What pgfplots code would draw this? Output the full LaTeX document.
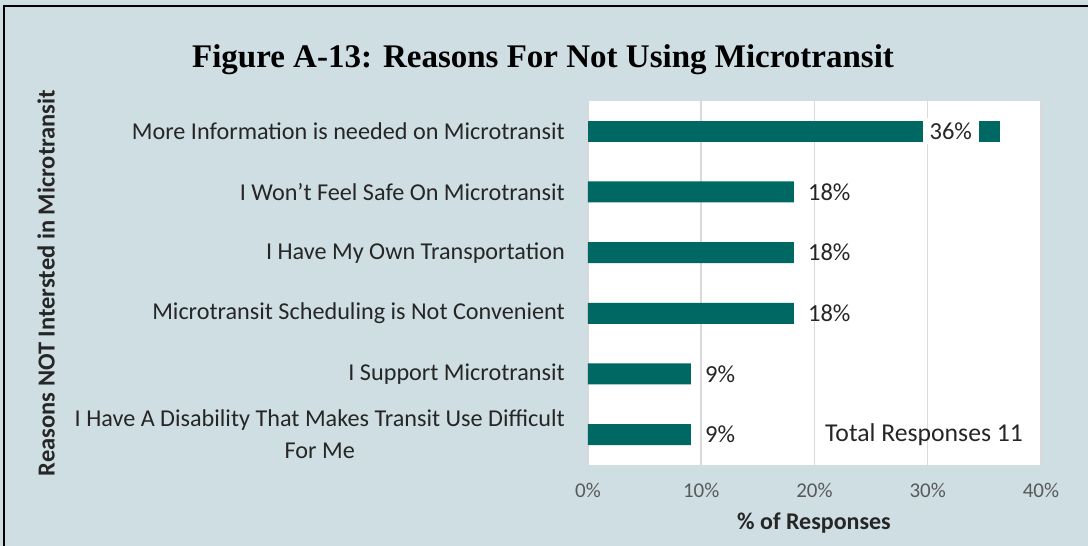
\documentclass[border=0pt]{standalone}
\usepackage{fontspec}
\setmainfont{Carlito}
\newfontfamily\titlefont{Liberation Serif}
\usepackage{pgfplots}
\pgfplotsset{compat=1.18}
\definecolor{bg}{RGB}{207,222,227}
\definecolor{barc}{RGB}{0,104,99}
\definecolor{gridc}{RGB}{217,217,217}
\definecolor{txt}{RGB}{38,38,38}
\definecolor{tickc}{RGB}{89,89,89}
\begin{document}
\begin{tikzpicture}[x=1pt,y=1pt]
\useasboundingbox (0,0) rectangle (1088,546);
\fill[bg] (0,0) rectangle (1088,546);
\draw[line width=2.5pt, black] (4,0) -- (4,540) -- (1088,540);
\node[font=\titlefont\bfseries\fontsize{33}{38}\selectfont, anchor=base, text=black] at (543,478) {Figure A-13: Reasons For Not Using Microtransit};
\node[rotate=90, font=\bfseries\fontsize{24.5}{28}\selectfont, text=txt] at (46,263) {Reasons NOT Intersted in Microtransit};
\node[anchor=base, font=\bfseries\fontsize{24}{28}\selectfont, text=txt] at (814,16) {\% of Responses};
\begin{axis}[
  at={(588pt,81pt)}, anchor=south west,
  width=453pt, height=364pt, scale only axis,
  xmin=0, xmax=40, ymin=-0.5, ymax=5.5,
  /pgf/number format/assume math mode=true,
  axis background/.style={fill=white},
  axis line style={draw=none},
  xtick={0,10,20,30,40},
  xticklabels={0\%,10\%,20\%,30\%,40\%},
  xticklabel style={anchor=base, yshift=-33pt, inner sep=0pt, font=\fontsize{21}{24}\selectfont, text=tickc},
  ytick={0,1,2,3,4,5},
  yticklabels={{I Have A Disability That Makes Transit Use Difficult\\For Me}, I Support Microtransit, Microtransit Scheduling is Not Convenient, I Have My Own Transportation, I Won't Feel Safe On Microtransit, More Information is needed on Microtransit},
  yticklabel style={align=center, anchor=east, inner sep=0pt, xshift=-23pt, font=\fontsize{24.2}{32}\selectfont, text=txt},
  major tick length=0pt,
  xmajorgrids,
  grid style={gridc, line width=1.5pt},
  clip=false,
]
\addplot[xbar, bar shift=0pt, fill=barc, draw=none, bar width=21pt, point meta=x,
  nodes near coords={\pgfmathprintnumber[fixed,precision=0]{\pgfplotspointmeta}\%},
  nodes near coords style={anchor=west, inner sep=0pt, xshift=14pt, font=\fontsize{24.5}{28}\selectfont, text=txt}]
  coordinates {(9.09,0) (9.09,1) (18.18,2) (18.18,3) (18.18,4)};
\addplot[xbar, bar shift=0pt, fill=barc, draw=none, bar width=21pt, point meta=x,
  nodes near coords={\pgfmathprintnumber[fixed,precision=0]{\pgfplotspointmeta}\%},
  nodes near coords style={anchor=center, xshift=-49pt, fill=white, inner xsep=7pt, minimum height=26pt, font=\fontsize{24.5}{28}\selectfont, text=txt}]
  coordinates {(36.36,5)};
\node[anchor=west, inner sep=0pt, font=\fontsize{25.7}{29}\selectfont, text=txt] at (axis cs:20.93,0) {Total Responses 11};
\end{axis}
\end{tikzpicture}
\end{document}
